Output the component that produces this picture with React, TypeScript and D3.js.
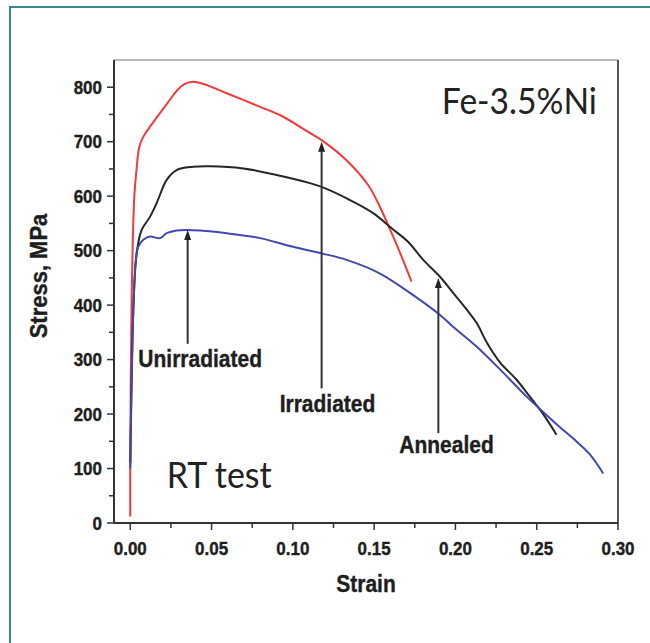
import React from "react";
import * as d3 from "d3";

const irradiated: [number, number][] = [
  [0, 12], [0.0, 105], [0.0009, 420], [0.0025, 600], [0.0039, 650], [0.0055, 690],
  [0.0078, 708], [0.012, 727], [0.0244, 777], [0.029, 795], [0.0335, 806], [0.0385, 810],
  [0.045, 806], [0.0593, 789], [0.0798, 764], [0.092, 749], [0.11, 717], [0.1177, 703],
  [0.133, 666], [0.1464, 620], [0.1525, 587], [0.1608, 532], [0.1669, 489], [0.173, 443],
];

const annealed: [number, number][] = [
  [0.0, 110], [0.002, 400], [0.0039, 495], [0.007, 538], [0.0121, 562], [0.0162, 587],
  [0.0224, 630], [0.0285, 648], [0.0387, 654], [0.049, 655], [0.0695, 651], [0.09, 639],
  [0.1105, 624], [0.1177, 617], [0.1331, 596], [0.1494, 569], [0.1608, 541], [0.171, 516],
  [0.1802, 483], [0.1905, 452], [0.1987, 422], [0.2069, 392], [0.2131, 367], [0.2192, 332],
  [0.2274, 295], [0.2376, 263], [0.2458, 232], [0.254, 200], [0.2622, 162],
];

const unirradiated: [number, number][] = [
  [0.0, 100], [0.002, 400], [0.0035, 483], [0.0049, 507], [0.008, 520], [0.0121, 526],
  [0.0183, 523], [0.0224, 532], [0.0285, 537], [0.0347, 538], [0.0429, 537], [0.0593, 532],
  [0.0798, 523], [0.1002, 507], [0.1177, 495], [0.1331, 483], [0.1536, 458], [0.1751, 416],
  [0.1905, 382], [0.1987, 360], [0.213, 324], [0.2294, 276], [0.2438, 232], [0.2561, 198],
  [0.2643, 176], [0.2725, 155], [0.2827, 126], [0.2909, 91],
];

const xMajorTicks = [0, 0.05, 0.1, 0.15, 0.2, 0.25, 0.3];
const xMinorTicks = [0.025, 0.075, 0.125, 0.175, 0.225, 0.275];
const yMajorTicks = [0, 100, 200, 300, 400, 500, 600, 700, 800];
const yMinorTicks = [50, 150, 250, 350, 450, 550, 650, 750];

const arrows: { label: string; x: number; tip: number; tail: number; lx: number; ly: number }[] = [
  { label: "Unirradiated", x: 0.0353, tip: 538, tail: 329, lx: 0.043, ly: 286 },
  { label: "Irradiated", x: 0.1177, tip: 700, tail: 247, lx: 0.1213, ly: 203 },
  { label: "Annealed", x: 0.1895, tip: 450, tail: 165, lx: 0.1945, ly: 128 },
];

const series = [
  { data: irradiated, color: "#f23a3a" },
  { data: annealed, color: "#262626" },
  { data: unirradiated, color: "#4347b0" },
];

export default function App() {
  const left = 114, right = 618, top = 60, bottom = 523;
  const x = d3.scaleLinear().domain([-0.01, 0.3]).range([left, right]);
  const y = d3.scaleLinear().domain([0, 850]).range([bottom, top]);
  const line = d3
    .line<[number, number]>()
    .x((d) => x(d[0]))
    .y((d) => y(d[1]))
    .curve(d3.curveCatmullRom.alpha(0.5));
  const tickFont = "'Liberation Sans', Arial, sans-serif";
  const calFont = "Lato, 'Open Sans', sans-serif";
  const boldText = (key: string, tx: number, ty: number, s: string, size: number, anchor: string, rot = 0) => (
    <text key={key} transform={`translate(${tx},${ty}) rotate(${rot}) scale(1,1.1)`} textAnchor={anchor}
      fontFamily={tickFont} fontWeight="bold" fontSize={size} fill="#1e1e1e" stroke="#1e1e1e"
      strokeWidth={0.35}>{s}</text>
  );
  return (
    <div style={{ position: "absolute", left: 0, top: 0 }}>
      <svg width={650} height={643} style={{ display: "block", background: "#fff" }}>
        <line x1={10} y1={7} x2={650} y2={7} stroke="#338a91" strokeWidth={2} />
        <line x1={10} y1={6} x2={10} y2={643} stroke="#338a91" strokeWidth={2} />

        <line x1={left} y1={top} x2={right} y2={top} stroke="#a0a0a0" strokeWidth={1.5} />
        <line x1={right} y1={top} x2={right} y2={bottom} stroke="#555" strokeWidth={2} />
        <line x1={left} y1={top} x2={left} y2={bottom} stroke="#333" strokeWidth={2} />
        <line x1={left} y1={bottom} x2={right} y2={bottom} stroke="#333" strokeWidth={2} />

        {yMajorTicks.map((t) => (
          <g key={"ym" + t}>
            <line x1={left - 7} x2={left} y1={y(t)} y2={y(t)} stroke="#333" strokeWidth={1.5} />
            {boldText("yl" + t, left - 12, y(t) + 6.5, String(t), 17, "end")}
          </g>
        ))}
        {yMinorTicks.map((t) => (
          <line key={"yn" + t} x1={left - 5} x2={left} y1={y(t)} y2={y(t)} stroke="#333" strokeWidth={1.5} />
        ))}
        {xMajorTicks.map((t) => (
          <g key={"xm" + t}>
            <line x1={x(t)} x2={x(t)} y1={bottom} y2={bottom + 7} stroke="#333" strokeWidth={1.5} />
            {boldText("xl" + t, x(t), 555, t.toFixed(2), 17, "middle")}
          </g>
        ))}
        {xMinorTicks.map((t) => (
          <line key={"xn" + t} x1={x(t)} x2={x(t)} y1={bottom} y2={bottom + 5} stroke="#333" strokeWidth={1.5} />
        ))}

        {boldText("xt", 366, 592, "Strain", 21, "middle")}
        {boldText("yt", 47, 276, "Stress, MPa", 22, "middle", -90)}

        {series.map((s, i) => (
          <path key={i} d={line(s.data) || ""} fill="none" stroke={s.color} strokeWidth={2} />
        ))}

        {arrows.map((a) => (
          <g key={a.label}>
            <line x1={x(a.x)} x2={x(a.x)} y1={y(a.tail)} y2={y(a.tip) + 6} stroke="#333" strokeWidth={2} />
            <path d={`M${x(a.x)},${y(a.tip)} L${x(a.x) - 3.5},${y(a.tip) + 10} L${x(a.x) + 3.5},${y(a.tip) + 10} Z`}
              fill="#222" />
            {boldText("al" + a.label, x(a.lx), y(a.ly), a.label, 21, "middle")}
          </g>
        ))}

        <text x={x(0.287)} y={y(751)} textAnchor="end" fontFamily={calFont} fontSize={36}
          fill="#222" textLength={155} lengthAdjust="spacingAndGlyphs">Fe-3.5%Ni</text>
        <text x={x(0.0224)} y={y(64)} textAnchor="start" fontFamily={calFont} fontSize={36}
          fill="#222" textLength={105} lengthAdjust="spacingAndGlyphs">RT test</text>
      </svg>
    </div>
  );
}
